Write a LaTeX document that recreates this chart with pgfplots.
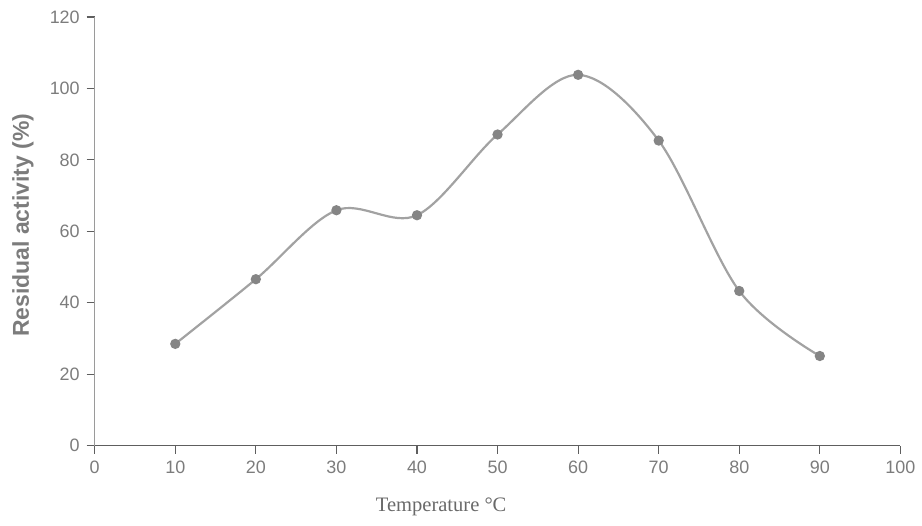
\documentclass[border=0pt]{standalone}
\usepackage{fontspec}
\setmainfont{Liberation Sans}
\newfontfamily\timesfont{Liberation Serif}
\usepackage{pgfplots}
\pgfplotsset{compat=1.18}
\usetikzlibrary{calc}
\definecolor{txt}{HTML}{7C7C7C}
\definecolor{xaxis}{HTML}{5E5E5E}
\definecolor{yaxis}{HTML}{9A9A9A}
\definecolor{curve}{HTML}{A2A2A2}
\definecolor{dot}{HTML}{858585}
\begin{document}
\begin{tikzpicture}
\begin{axis}[
  name=ax,
  scale only axis, width=404pt, height=215pt,
  xmin=0, xmax=100, ymin=0, ymax=120,
  xtick={0,10,...,100}, ytick={0,20,...,120},
  axis x line=bottom, axis y line=left,
  axis line style={-},
  x axis line style={draw=xaxis, line width=0.8pt},
  y axis line style={draw=yaxis, line width=0.6pt},
  tick align=outside, major tick length=4pt,
  x tick style={draw=xaxis, line width=0.6pt},
  y tick style={draw=xaxis, line width=0.6pt},
  /pgf/number format/assume math mode=true,
  ticklabel style={font=\fontsize{9}{10}\selectfont, text=txt},
  ylabel={Residual activity (\%)},
  ylabel style={font=\bfseries\fontsize{11.5}{13}\selectfont, text=txt,
    at={(axis description cs:-0.089,0.514)}, anchor=center},
  xlabel={Temperature °C},
  xlabel style={font=\timesfont\fontsize{10.3}{12}\selectfont, text=txt!85!black,
    at={(axis description cs:0.43,-0.142)}, anchor=center},
  clip=false,
]
\addplot[curve, line width=1.1pt, smooth, tension=0.55,
  mark=*, mark size=2pt, mark options={fill=dot, draw=dot}]
  coordinates {(10,28.5)(20,46.6)(30,65.9)(40,64.5)(50,87.1)(60,103.8)(70,85.4)(80,43.3)(90,25.1)};
\end{axis}
\path ($(ax.south west)+(-47.5pt,-40pt)$) rectangle ($(ax.north east)+(9.5pt,8.5pt)$);
\end{tikzpicture}
\end{document}
